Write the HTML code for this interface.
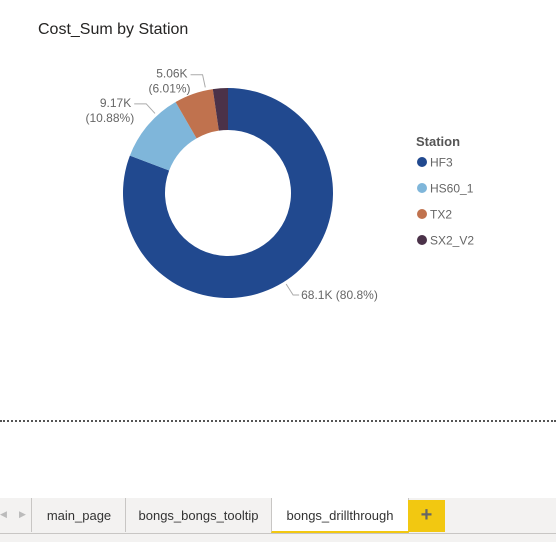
<!DOCTYPE html>
<html><head><meta charset="utf-8"><style>
body{margin:0;width:556px;height:542px;overflow:hidden;background:#fff;font-family:"Liberation Sans",sans-serif;position:relative}
.tabbar{position:absolute;left:0;top:498px;width:556px;height:44px;background:#f3f2f1}
.tab{position:absolute;top:0;height:34px;line-height:36px;font-size:13px;color:#333;text-align:center;border-left:1px solid #c8c6c4}
</style></head><body>
<div style="position:absolute;left:38px;top:21px;font-size:16px;color:#252423">Cost_Sum by Station</div>
<svg id="chart" width="556" height="420" style="position:absolute;left:0;top:0"></svg>
<div style="position:absolute;left:0;top:420px;width:556px;border-top:2px dotted #555"></div>
<div class="tabbar">
 <div style="position:absolute;left:0;top:11px;font-size:9px;color:#bbb">◀</div>
 <div style="position:absolute;left:19px;top:11px;font-size:9px;color:#bbb">▶</div>
 <div class="tab" style="left:31px;width:94px">main_page</div>
 <div class="tab" style="left:125px;width:145px">bongs_bongs_tooltip</div>
 <div class="tab" style="left:271px;width:136px;background:#fff;border-bottom:2px solid #f2c811;height:33px;border-right:1px solid #c8c6c4">bongs_drillthrough</div>
 <div style="position:absolute;left:408px;top:2px;width:37px;height:32px;background:#f2c811;color:#666;font-size:20px;font-weight:bold;text-align:center;line-height:31px">+</div>
 <div style="position:absolute;left:0;top:35px;width:556px;border-top:1px solid #c8c6c4"></div>
</div>
<script>
const categories=["HF3","HS60_1","TX2","SX2_V2"];
const values=[68.1,9.17,5.06,1.95];
const valueLabels=["68.1K","9.17K","5.06K","1.95K"];
const pctLabels=["80.8%","10.88%","6.01%","2.31%"];
const colors=["#21498f","#7fb6da","#c0724e","#4b3249"];
const svg=document.getElementById('chart');const NS="http://www.w3.org/2000/svg";
const cx=228,cy=193,R=105,r=63;
const total=values.reduce((a,b)=>a+b,0);
function pt(a,rad){return [cx+rad*Math.sin(a),cy-rad*Math.cos(a)];}
let a0=0;
values.forEach((v,i)=>{
 const a1=a0+v/total*2*Math.PI;const lg=(a1-a0)>Math.PI?1:0;
 const [x0,y0]=pt(a0,R),[x1,y1]=pt(a1,R),[x2,y2]=pt(a1,r),[x3,y3]=pt(a0,r);
 const p=document.createElementNS(NS,'path');
 p.setAttribute('d',`M${x0},${y0}A${R},${R} 0 ${lg} 1 ${x1},${y1}L${x2},${y2}A${r},${r} 0 ${lg} 0 ${x3},${y3}Z`);
 p.setAttribute('fill',colors[i]);
 
 
 svg.appendChild(p);
 if(i<3){
  const m=(a0+a1)/2;const right=Math.sin(m)>0;
  const off=(right?2:7)*Math.PI/180;
  const [ex,ey]=pt(m+off,R+3);const [kx,ky]=pt(m+off,R+16);
  const hx=kx+(right?6:-12);
  const l=document.createElementNS(NS,'polyline');
  l.setAttribute('points',`${ex},${ey} ${kx},${ky} ${hx},${ky}`);
  l.setAttribute('fill','none');l.setAttribute('stroke','#aaa');
  
  
  svg.appendChild(l);
  const t=document.createElementNS(NS,'text');
  t.setAttribute('font-size','12');t.setAttribute('fill','#666');
  
  
  if(right){t.setAttribute('x',hx+2);t.setAttribute('y',ky+4);t.textContent=valueLabels[i]+' ('+pctLabels[i]+')';}
  else{t.setAttribute('text-anchor','end');
   const s1=document.createElementNS(NS,'tspan');s1.setAttribute('x',hx-3);s1.setAttribute('y',ky+3);s1.textContent=valueLabels[i];
   const s2=document.createElementNS(NS,'tspan');s2.setAttribute('x',hx);s2.setAttribute('y',ky+18);s2.textContent='('+pctLabels[i]+')';
   t.appendChild(s1);t.appendChild(s2);}
  svg.appendChild(t);
 }
 a0=a1;
});
const lt=document.createElementNS(NS,'text');
lt.setAttribute('x',416);lt.setAttribute('y',146);lt.setAttribute('font-size','13');lt.setAttribute('font-weight','bold');lt.setAttribute('fill','#555');lt.textContent='Station';


svg.appendChild(lt);
categories.forEach((c,i)=>{
 const y=162+i*26;
 const g=document.createElementNS(NS,'g');
 
 
 const d=document.createElementNS(NS,'circle');d.setAttribute('cx',422);d.setAttribute('cy',y);d.setAttribute('r',5);d.setAttribute('fill',colors[i]);
 const t=document.createElementNS(NS,'text');t.setAttribute('x',430);t.setAttribute('y',y+4.5);t.setAttribute('font-size','12');t.setAttribute('fill','#666');t.textContent=c;
 g.appendChild(d);g.appendChild(t);svg.appendChild(g);
});
</script>
</body></html>
